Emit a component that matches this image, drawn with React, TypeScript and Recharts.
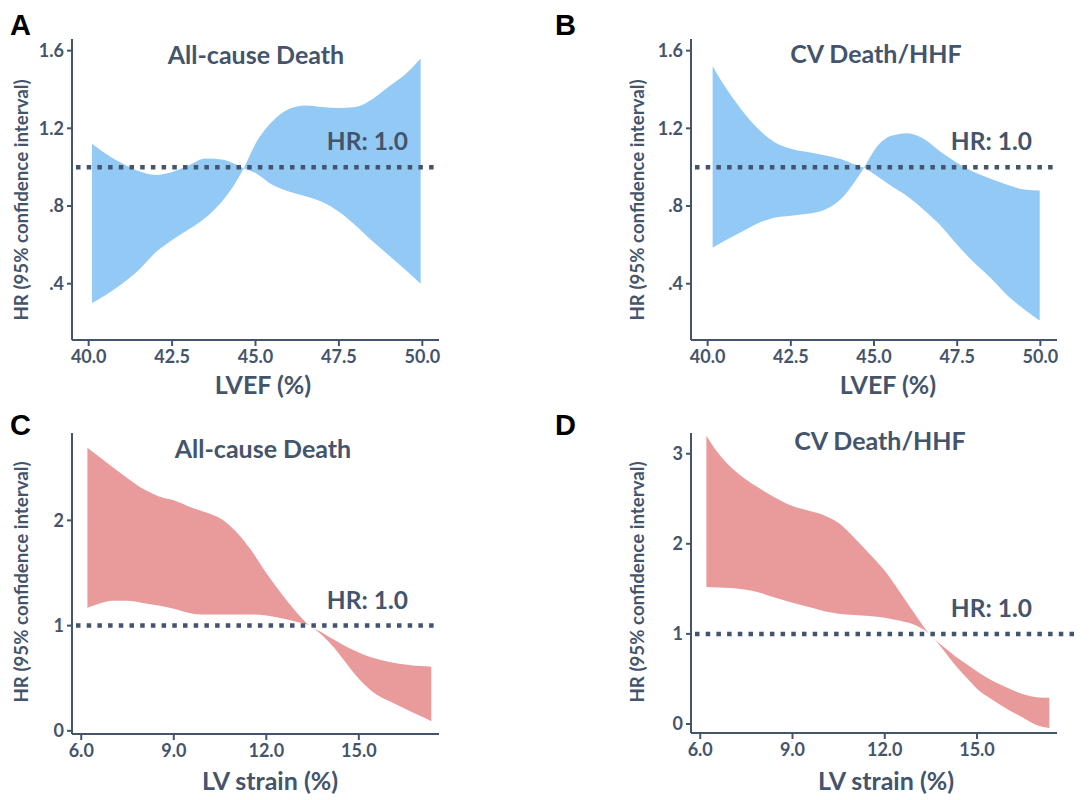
import React from 'react';
import { Area, AreaChart, ReferenceLine, XAxis, YAxis } from 'recharts';

// ── Data ───────────────────────────────────────────────────────────────────────

// Panel A – LVEF vs all-cause death
const lvefA = [40.1, 40.5, 41, 41.5, 42, 42.5, 43, 43.5, 44, 44.4, 44.65, 45, 45.5, 46, 46.5, 47, 47.5, 48, 48.5, 49, 49.5, 49.95];
const bandA1 = [1.12, 1.07, 1.02, 0.98, 0.96, 0.975, 1.01, 1.045, 1.04, 1.015, 0.995, 0.97, 0.91, 0.875, 0.85, 0.82, 0.77, 0.7, 0.62, 0.545, 0.47, 0.4];
const bandA2 = [0.3, 0.34, 0.4, 0.47, 0.56, 0.625, 0.68, 0.74, 0.825, 0.92, 0.995, 1.12, 1.235, 1.3, 1.318, 1.31, 1.305, 1.31, 1.35, 1.415, 1.48, 1.56];

// Panel B – LVEF vs CV death/HHF
const lvefB = [40.15, 40.5, 41, 41.5, 42, 42.5, 43, 43.5, 44, 44.4, 44.7, 45, 45.5, 46, 46.5, 47, 47.5, 48, 48.5, 49, 49.5, 49.98];
const bandB1 = [1.52, 1.42, 1.3, 1.2, 1.13, 1.095, 1.078, 1.062, 1.042, 1.015, 0.997, 0.965, 0.905, 0.85, 0.78, 0.7, 0.6, 0.51, 0.43, 0.34, 0.27, 0.21];
const bandB2 = [0.585, 0.62, 0.665, 0.71, 0.74, 0.75, 0.76, 0.78, 0.835, 0.92, 0.997, 1.085, 1.16, 1.175, 1.145, 1.08, 1.022, 0.975, 0.94, 0.91, 0.885, 0.88];

// Panel C – LV strain vs all-cause death
const strainC = [6.2, 6.6, 7, 7.5, 8, 8.5, 9, 9.5, 10, 10.5, 11, 11.5, 12, 12.5, 13, 13.4, 13.8, 14.2, 14.6, 15, 15.5, 16, 16.5, 17, 17.35];
const bandC1 = [2.69, 2.6, 2.51, 2.4, 2.3, 2.23, 2.19, 2.13, 2.08, 2.02, 1.9, 1.72, 1.5, 1.3, 1.12, 1.0, 0.935, 0.865, 0.8, 0.745, 0.69, 0.655, 0.63, 0.615, 0.61];
const bandC2 = [1.17, 1.21, 1.235, 1.235, 1.215, 1.19, 1.16, 1.12, 1.105, 1.105, 1.105, 1.105, 1.095, 1.07, 1.035, 1.0, 0.91, 0.79, 0.64, 0.495, 0.36, 0.28, 0.21, 0.14, 0.09];

// Panel D – LV strain vs CV death/HHF
const strainD = [6.2, 6.6, 7, 7.5, 8, 8.5, 9, 9.5, 10, 10.5, 11, 11.5, 12, 12.5, 13, 13.45, 13.9, 14.3, 14.7, 15.1, 15.5, 16, 16.5, 17, 17.35];
const bandD1 = [3.2, 3.0, 2.85, 2.71, 2.6, 2.5, 2.42, 2.37, 2.32, 2.23, 2.07, 1.89, 1.7, 1.46, 1.21, 1.0, 0.86, 0.75, 0.655, 0.56, 0.48, 0.4, 0.33, 0.295, 0.29];
const bandD2 = [1.52, 1.515, 1.51, 1.49, 1.45, 1.395, 1.345, 1.3, 1.255, 1.225, 1.21, 1.2, 1.18, 1.145, 1.095, 1.0, 0.825, 0.65, 0.5, 0.36, 0.27, 0.16, 0.07, -0.02, -0.045];

const lvefTicks = [40, 42.5, 45, 47.5, 50];
const strainTicks = [6, 9, 12, 15];
const hrTicksAB = [0.4, 0.8, 1.2, 1.6];
const hrTicksC = [0, 1, 2];
const hrTicksD = [0, 1, 2, 3];

// ── Styling ────────────────────────────────────────────────────────────────────

const SLATE = '#44546a';
const BLUE = '#92c9f5';
const PINK = '#e99a9b';
const FONT = 'Lato, "Open Sans", sans-serif';
const LETTER_FONT = '"Liberation Sans", Arial, sans-serif';

const W = 545;
const H = 400;

function buildBand(xs: number[], c1: number[], c2: number[]) {
  return xs.map((x, i) => ({ x, band: [c2[i], c1[i]] }));
}

const fmtHR = (v: number) => (v < 1 && v > 0 ? `${v}`.replace('0.', '.') : `${v}`);

interface PanelProps {
  left: number;
  top: number;
  letter: string;
  title: string;
  titleX: number;
  titleY: number;
  xLabel: string;
  xLabelX: number;
  xLabelY: number;
  yLabelX: number;
  yLabelY: number;
  data: { x: number; band: number[] }[];
  color: string;
  xDomain: [number, number];
  xTicks: number[];
  yDomain: [number, number];
  yTicks: number[];
  margin: { top: number; right: number; bottom: number; left: number };
  xAxisHeight: number;
  hrRight: number;
  lineEnd: number;
}

function Panel(p: PanelProps) {
  return (
    <div style={{ position: 'absolute', left: p.left, top: p.top, width: W, height: H }}>
      <AreaChart width={W} height={H} data={p.data} margin={p.margin}>
        <XAxis
          dataKey="x"
          type="number"
          domain={p.xDomain}
          ticks={p.xTicks}
          allowDataOverflow
          tickFormatter={(v: number) => v.toFixed(1)}
          height={p.xAxisHeight}
          axisLine={{ stroke: SLATE, strokeWidth: 2 }}
          tickLine={{ stroke: SLATE, strokeWidth: 2 }}
          tickSize={6}
          tickMargin={4}
          tick={{ fill: SLATE, fontSize: 18, fontWeight: 700, fontFamily: FONT }}
        />
        <YAxis
          type="number"
          domain={p.yDomain}
          ticks={p.yTicks}
          allowDataOverflow
          tickFormatter={fmtHR}
          width={72}
          axisLine={{ stroke: SLATE, strokeWidth: 2 }}
          tickLine={{ stroke: SLATE, strokeWidth: 2 }}
          tickSize={5}
          tickMargin={3}
          tick={{ fill: SLATE, fontSize: 18, fontWeight: 700, fontFamily: FONT }}
        />
        <Area
          type="monotone"
          dataKey="band"
          stroke="none"
          fill={p.color}
          fillOpacity={1}
          dot={false}
          activeDot={false}
          isAnimationActive={false}
        />
        <ReferenceLine
          segment={[{ x: p.xDomain[0], y: 1 }, { x: p.lineEnd, y: 1 }]}
          ifOverflow="visible"
          stroke={SLATE}
          strokeWidth={4.5}
          strokeDasharray="4.5 6.2"
          strokeDashoffset={-4}
          label={{
            content: (props: any) => {
              const vb = props.viewBox || {};
              return (
                <text
                  x={p.hrRight}
                  y={(vb.y ?? 0) - 17}
                  textAnchor="end"
                  fill={SLATE}
                  fontSize={24.5}
                  fontWeight={700}
                  fontFamily={FONT}
                >
                  HR: 1.0
                </text>
              );
            },
          }}
        />
      </AreaChart>
      <svg
        width={W}
        height={H}
        style={{ position: 'absolute', left: 0, top: 0, pointerEvents: 'none' }}
      >
        <text x={10} y={35} fontSize={29} fontWeight={700} fontFamily={LETTER_FONT} fill="#000">
          {p.letter}
        </text>
        <text x={p.titleX} y={p.titleY} textAnchor="middle" fontSize={25} fontWeight={700} fontFamily={FONT} fill={SLATE}>
          {p.title}
        </text>
        <text x={p.xLabelX} y={p.xLabelY} textAnchor="middle" fontSize={25} fontWeight={700} fontFamily={FONT} fill={SLATE}>
          {p.xLabel}
        </text>
        <text
          x={p.yLabelX}
          y={p.yLabelY}
          textAnchor="middle"
          dominantBaseline="central"
          transform={`rotate(-90 ${p.yLabelX} ${p.yLabelY})`}
          fontSize={18.7}
          fontWeight={700}
          fontFamily={FONT}
          fill={SLATE}
        >
          HR (95% confidence interval)
        </text>
      </svg>
    </div>
  );
}

export default function App() {
  return (
    <div style={{ position: 'absolute', left: 0, top: 0, width: 1090, height: 800, background: '#fff' }}>
      <Panel
        left={0}
        top={0}
        letter="A"
        title="All-cause Death"
        titleX={256}
        titleY={64}
        xLabel="LVEF (%)"
        xLabelX={263}
        xLabelY={394}
        yLabelX={21}
        yLabelY={200}
        data={buildBand(lvefA, bandA1, bandA2)}
        color={BLUE}
        xDomain={[39.5, 50.5]}
        xTicks={lvefTicks}
        yDomain={[0.11, 1.66]}
        yTicks={hrTicksAB}
        margin={{ top: 39, right: 106, bottom: 0, left: 0 }}
        xAxisHeight={60}
        hrRight={408}
        lineEnd={50.5}
      />
      <Panel
        left={545}
        top={0}
        letter="B"
        title="CV Death/HHF"
        titleX={331}
        titleY={63}
        xLabel="LVEF (%)"
        xLabelX={343}
        xLabelY={394}
        yLabelX={92}
        yLabelY={200}
        data={buildBand(lvefB, bandB1, bandB2)}
        color={BLUE}
        xDomain={[39.5, 50.5]}
        xTicks={lvefTicks}
        yDomain={[0.11, 1.66]}
        yTicks={hrTicksAB}
        margin={{ top: 39, right: 33, bottom: 0, left: 74 }}
        xAxisHeight={60}
        hrRight={487}
        lineEnd={50.5}
      />
      <Panel
        left={0}
        top={400}
        letter="C"
        title="All-cause Death"
        titleX={263}
        titleY={58}
        xLabel="LV strain (%)"
        xLabelX={270}
        xLabelY={390}
        yLabelX={21}
        yLabelY={182}
        data={buildBand(strainC, bandC1, bandC2)}
        color={PINK}
        xDomain={[5.7, 17.6]}
        xTicks={strainTicks}
        yDomain={[-0.03, 2.83]}
        yTicks={hrTicksC}
        margin={{ top: 33, right: 106, bottom: 0, left: 0 }}
        xAxisHeight={66}
        hrRight={408}
        lineEnd={17.6}
      />
      <Panel
        left={545}
        top={400}
        letter="D"
        title="CV Death/HHF"
        titleX={335}
        titleY={50}
        xLabel="LV strain (%)"
        xLabelX={341}
        xLabelY={390}
        yLabelX={92}
        yLabelY={182}
        data={buildBand(strainD, bandD1, bandD2)}
        color={PINK}
        xDomain={[5.7, 17.6]}
        xTicks={strainTicks}
        yDomain={[-0.1, 3.23]}
        yTicks={hrTicksD}
        margin={{ top: 33, right: 33, bottom: 0, left: 74 }}
        xAxisHeight={67}
        hrRight={487}
        lineEnd={18.3}
      />
    </div>
  );
}
